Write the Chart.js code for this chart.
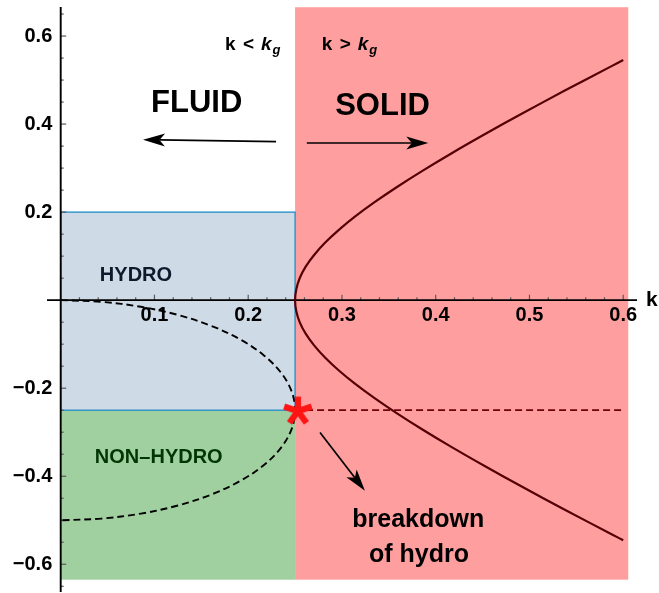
<!DOCTYPE html>
<html><head><meta charset="utf-8">
<script src="https://cdn.jsdelivr.net/npm/chart.js@4.4.1/dist/chart.umd.min.js"></script>
<style>html,body{margin:0;padding:0;background:#fff;overflow:hidden}canvas{display:block}</style>
</head><body>
<canvas id="c" width="659" height="593" style="width:659px;height:593px"></canvas>
<script>
// ---- data ----
const xTickValues = [0.1, 0.2, 0.3, 0.4, 0.5, 0.6];
const yTickValues = [-0.6, -0.4, -0.2, 0.2, 0.4, 0.6];

// overdamped (fluid) branches, k < kg : dashed closed curve
const fluidK = [0, 0.0434, 0.0855, 0.125, 0.1607, 0.1915, 0.2165, 0.2349, 0.2462, 0.25,
                0.2462, 0.2349, 0.2165, 0.1915, 0.1607, 0.125, 0.0855, 0.0434, 0];
const fluidOmega = [0, -0.0038, -0.0151, -0.0335, -0.0585, -0.0893, -0.125, -0.1645, -0.2066, -0.25,
                    -0.2934, -0.3355, -0.375, -0.4107, -0.4415, -0.4665, -0.4849, -0.4962, -0.5];

// propagating (solid) branch, k > kg : solid curve
const solidK = [0.6, 0.5881, 0.5377, 0.4927, 0.4527, 0.4171, 0.3858, 0.3583, 0.3344, 0.3138, 0.2964,
                0.2819, 0.2703, 0.2613, 0.2550, 0.2513, 0.25,
                0.2513, 0.2550, 0.2613, 0.2703, 0.2819, 0.2964, 0.3138, 0.3344, 0.3583, 0.3858,
                0.4171, 0.4527, 0.4927, 0.5377, 0.5881, 0.6];
const solidOmega = [0.5454, 0.5323, 0.4761, 0.4246, 0.3774, 0.3339, 0.2938, 0.2566, 0.2220, 0.1897, 0.1592,
                    0.1303, 0.1027, 0.0761, 0.0503, 0.0250, 0,
                    -0.0250, -0.0503, -0.0761, -0.1027, -0.1303, -0.1592, -0.1897, -0.2220, -0.2566, -0.2938,
                    -0.3339, -0.3774, -0.4246, -0.4761, -0.5323, -0.5454];

// damping of the solid branch : dashed horizontal line
const dampK = [0.25, 0.6];
const dampOmega = [-0.25, -0.25];

// breakdown point
const breakK = [0.253];
const breakOmega = [-0.252];

// shaded regions (k range, omega range)
const regionSolid = [0.25, 0.6054, -0.635, 0.6655];
const regionHydro = [0, 0.25, -0.25, 0.2];
const regionNonHydro = [0, 0.25, -0.635, -0.25];

// ---- helpers ----
const FONT = '"Liberation Sans", Arial, Helvetica, sans-serif';
const zip = (xs, ys) => xs.map((x, i) => ({x: x, y: ys[i]}));

function makeStar() {
  const c = document.createElement('canvas');
  c.width = 36; c.height = 36;
  const g = c.getContext('2d');
  g.strokeStyle = 'rgb(255,20,20)';
  g.lineWidth = 6.2;
  g.lineCap = 'butt';
  for (let i = 0; i < 5; i++) {
    const a = -Math.PI / 2 + i * 2 * Math.PI / 5;
    g.beginPath();
    g.moveTo(18, 18);
    g.lineTo(18 + 14.5 * Math.cos(a), 18 + 14.5 * Math.sin(a));
    g.stroke();
  }
  return c;
}

const textItems = [
  {text: 'FLUID', k: 0.1451, w: 0.4272, font: 'bold 31px ' + FONT, color: '#000', align: 'center'},
  {text: 'SOLID', k: 0.3433, w: 0.4211, font: 'bold 31px ' + FONT, color: '#000', align: 'center'},
  {text: 'HYDRO', k: 0.0803, w: 0.0431, font: 'bold 20px ' + FONT, color: 'rgb(12,26,44)', align: 'center'},
  {text: 'NON\u2013HYDRO', k: 0.1046, w: -0.3703, font: 'bold 20px ' + FONT, color: 'rgb(0,55,0)', align: 'center'},
  {text: 'breakdown', k: 0.3814, w: -0.5161, font: 'bold 25px ' + FONT, color: '#000', align: 'center'},
  {text: 'of hydro', k: 0.3822, w: -0.5955, font: 'bold 25px ' + FONT, color: '#000', align: 'center'},
  {text: 'k', k: 0.6243, w: -0.0136, font: 'bold 21px ' + FONT, color: '#000', align: 'left'}
];
const kgLabels = [
  {rel: '<', k: 0.1753, w: 0.5685},
  {rel: '>', k: 0.2784, w: 0.5685}
];
const arrows = [
  {from: [0.2297, 0.3600], to: [0.0878, 0.3646]},
  {from: [0.2625, 0.3570], to: [0.3921, 0.3570]},
  {from: [0.2766, -0.3007], to: [0.3245, -0.4331]}
];

function drawArrow(ctx, x1, y1, x2, y2) {
  const dx = x2 - x1, dy = y2 - y1, len = Math.hypot(dx, dy);
  const ux = dx / len, uy = dy / len, px = -uy, py = ux;
  const L = 22, W = 6.5, ind = 5.5;
  ctx.save();
  ctx.strokeStyle = '#000'; ctx.fillStyle = '#000'; ctx.lineWidth = 1.7;
  ctx.beginPath();
  ctx.moveTo(x1, y1);
  ctx.lineTo(x2 - ux * (L - ind), y2 - uy * (L - ind));
  ctx.stroke();
  ctx.beginPath();
  ctx.moveTo(x2, y2);
  ctx.lineTo(x2 - ux * L + px * W, y2 - uy * L + py * W);
  ctx.lineTo(x2 - ux * (L - ind), y2 - uy * (L - ind));
  ctx.lineTo(x2 - ux * L - px * W, y2 - uy * L - py * W);
  ctx.closePath();
  ctx.fill();
  ctx.restore();
}

const decor = {
  id: 'decor',
  beforeDraw(chart) {
    const ctx = chart.ctx, xs = chart.scales.x, ys = chart.scales.y;
    const rect = (r, fill) => {
      const x0 = xs.getPixelForValue(r[0]), x1 = xs.getPixelForValue(r[1]);
      const y0 = ys.getPixelForValue(r[3]), y1 = ys.getPixelForValue(r[2]);
      ctx.fillStyle = fill;
      ctx.fillRect(x0, y0, x1 - x0, y1 - y0);
      return [x0, y0, x1 - x0, y1 - y0];
    };
    ctx.save();
    rect(regionSolid, 'rgb(255,158,158)');
    rect(regionNonHydro, 'rgb(160,207,160)');
    const h = rect(regionHydro, 'rgb(206,218,230)');
    ctx.strokeStyle = 'rgb(30,140,200)';
    ctx.lineWidth = 1.3;
    ctx.strokeRect(h[0], h[1], h[2], h[3]);
    ctx.restore();
  },
  beforeDatasetsDraw(chart) {
    const ctx = chart.ctx, xs = chart.scales.x, ys = chart.scales.y;
    const X0 = xs.getPixelForValue(0), Y0 = ys.getPixelForValue(0);
    ctx.save();
    // ticks
    ctx.strokeStyle = 'rgb(90,90,90)';
    ctx.lineWidth = 1.2;
    for (let i = 1; i <= 30; i++) {
      const v = i * 0.02, px = xs.getPixelForValue(v);
      const len = (i % 5 === 0) ? 5.5 : 3;
      ctx.beginPath(); ctx.moveTo(px, Y0); ctx.lineTo(px, Y0 - len); ctx.stroke();
    }
    for (let i = -13; i <= 13; i++) {
      if (i === 0) continue;
      const v = i * 0.05, py = ys.getPixelForValue(v);
      const len = (i % 4 === 0) ? 5.5 : 3;
      ctx.beginPath(); ctx.moveTo(X0, py); ctx.lineTo(X0 + len, py); ctx.stroke();
    }
    // axes
    ctx.strokeStyle = '#000';
    ctx.lineWidth = 1.9;
    ctx.beginPath();
    ctx.moveTo(xs.getPixelForValue(-0.0146), Y0); ctx.lineTo(xs.right, Y0);
    ctx.moveTo(X0, chart.chartArea.top); ctx.lineTo(X0, chart.chartArea.bottom);
    ctx.stroke();
    ctx.restore();
  },
  afterDatasetsDraw(chart) {
    const ctx = chart.ctx, xs = chart.scales.x, ys = chart.scales.y;
    ctx.save();
    arrows.forEach(a => drawArrow(ctx,
      xs.getPixelForValue(a.from[0]), ys.getPixelForValue(a.from[1]),
      xs.getPixelForValue(a.to[0]), ys.getPixelForValue(a.to[1])));
    ctx.textBaseline = 'alphabetic';
    textItems.forEach(t => {
      ctx.font = t.font; ctx.fillStyle = t.color; ctx.textAlign = t.align;
      ctx.fillText(t.text, xs.getPixelForValue(t.k), ys.getPixelForValue(t.w));
    });
    kgLabels.forEach(l => {
      const x = xs.getPixelForValue(l.k), y = ys.getPixelForValue(l.w);
      ctx.fillStyle = '#000'; ctx.textAlign = 'left';
      ctx.font = 'bold 19px ' + FONT;
      ctx.fillText('k', x, y);
      ctx.fillText(l.rel, x + 18, y);
      ctx.font = 'italic bold 19px ' + FONT;
      ctx.fillText('k', x + 36, y);
      ctx.font = 'italic bold 13px ' + FONT;
      ctx.fillText('g', x + 47.5, y + 4.5);
    });
    ctx.restore();
  }
};

const noPad = s => { s.paddingTop = 0; s.paddingBottom = 0; s.paddingLeft = 0; s.paddingRight = 0; };

new Chart(document.getElementById('c'), {
  type: 'scatter',
  data: {
    datasets: [
      {data: zip(fluidK, fluidOmega), showLine: true, borderColor: '#000', borderWidth: 1.9, order: 2,
       borderDash: [7, 4], pointRadius: 0, pointHoverRadius: 0, pointBorderWidth: 0, tension: 0.35, fill: false},
      {data: zip(solidK, solidOmega), showLine: true, borderColor: 'rgb(85,0,5)', borderWidth: 2.2, order: 2,
       pointRadius: 0, pointHoverRadius: 0, pointBorderWidth: 0, tension: 0.35, fill: false},
      {data: zip(dampK, dampOmega), showLine: true, borderColor: 'rgb(110,0,10)', borderWidth: 1.8, order: 2,
       borderDash: [7, 4], pointRadius: 0, pointHoverRadius: 0, pointBorderWidth: 0, fill: false},
      {data: zip(breakK, breakOmega), showLine: false, pointStyle: makeStar(), pointRadius: 1, order: 0,
       pointHoverRadius: 0, pointBorderWidth: 0}
    ]
  },
  options: {
    responsive: false,
    animation: false,
    layout: {padding: {top: 7, right: 22, bottom: 0, left: 0}},
    plugins: {legend: {display: false}, tooltip: {enabled: false}},
    events: [],
    scales: {
      x: {
        type: 'linear', min: 0, max: 0.6147, position: {y: 0},
        grid: {display: false, drawTicks: false}, border: {display: false},
        afterFit: noPad,
        afterBuildTicks: s => { s.ticks = xTickValues.map(v => ({value: v})); },
        ticks: {autoSkip: false, maxRotation: 0, padding: 3, color: '#000',
                font: {family: FONT, size: 20, weight: 'bold'},
                callback: v => String(Math.round(v * 10) / 10)}
      },
      y: {
        type: 'linear', min: -0.663, max: 0.666, position: 'left',
        grid: {display: false, drawTicks: false}, border: {display: false},
        afterFit: s => { noPad(s); s.width = 60.7; },
        afterBuildTicks: s => { s.ticks = yTickValues.map(v => ({value: v})); },
        ticks: {autoSkip: false, padding: 8.4, color: '#000',
                font: {family: FONT, size: 20, weight: 'bold'},
                callback: v => (v < 0 ? '\u2212' : '') + Math.abs(Math.round(v * 10) / 10).toFixed(1)}
      }
    }
  },
  plugins: [decor]
});
</script>
</body></html>
